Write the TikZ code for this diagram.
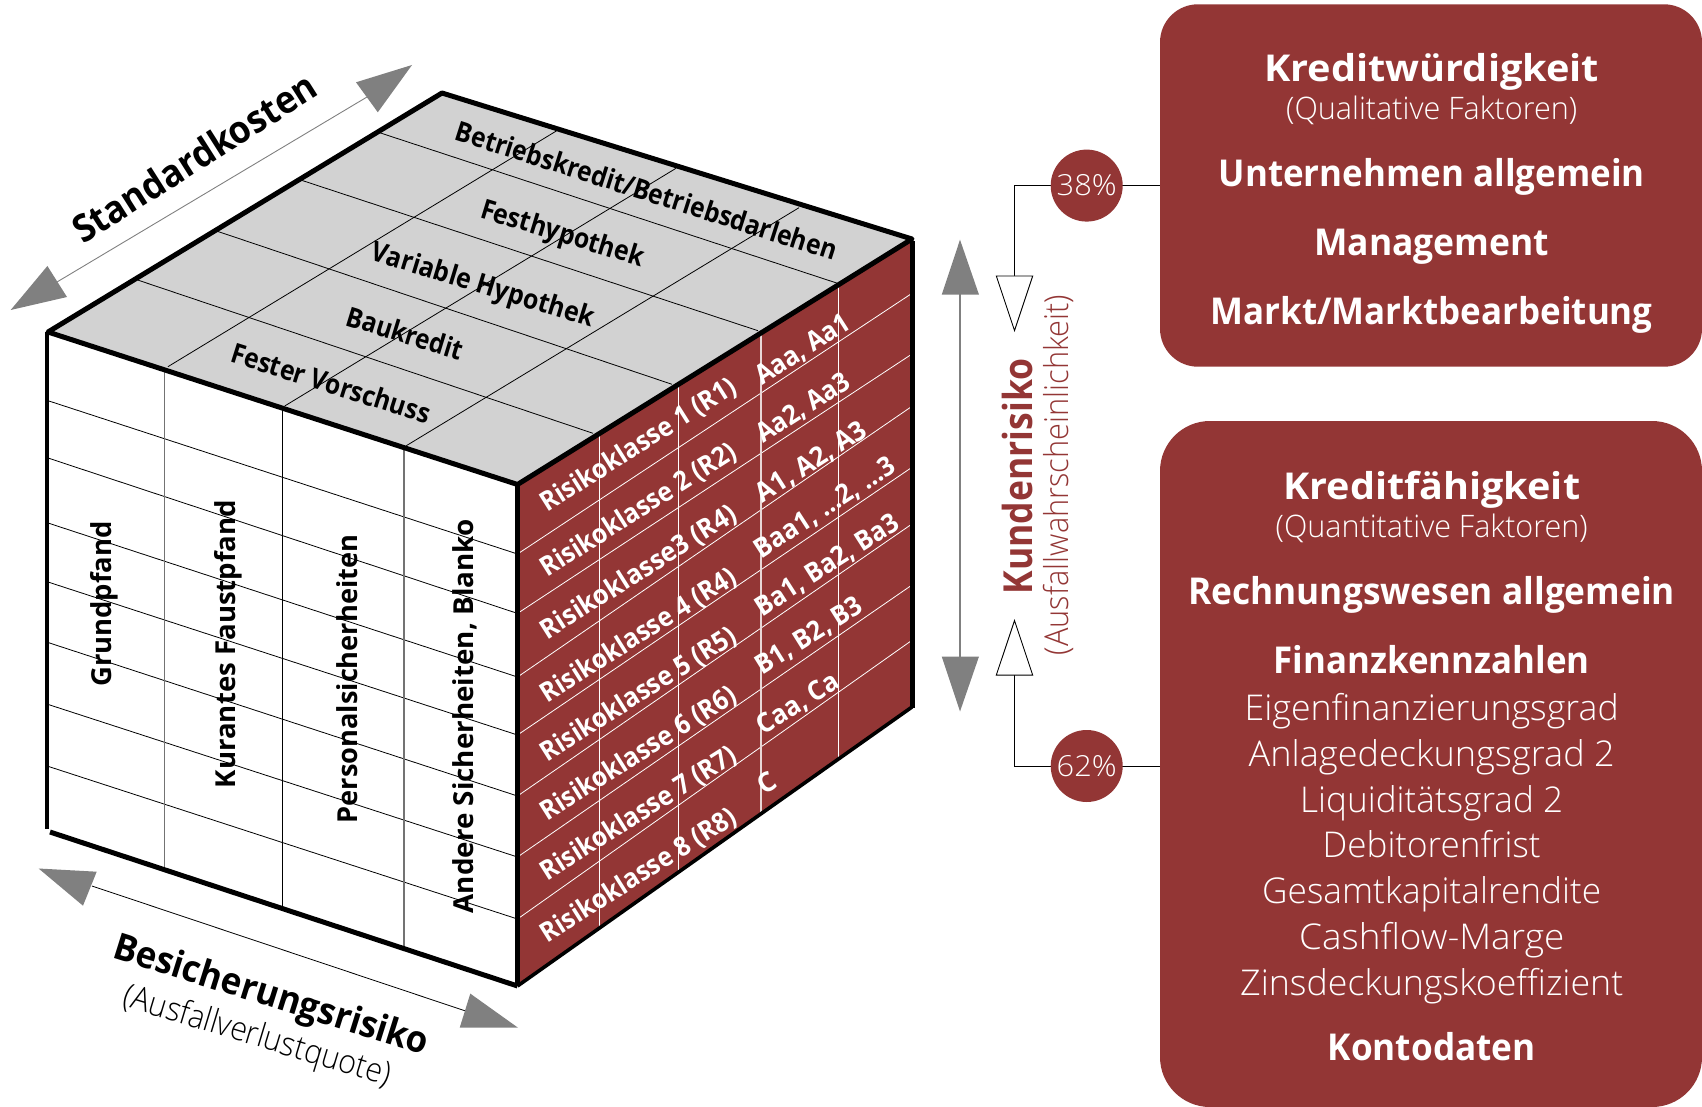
\documentclass[tikz,border=0pt]{standalone}
\usepackage{graphicx}
\usepackage{fontspec}
\setmainfont{Open Sans}
\newfontfamily\lightf{Open Sans}[UprightFont=* Light]
\definecolor{wine}{HTML}{933635}
\definecolor{arrowgray}{HTML}{808080}
\definecolor{topgray}{HTML}{D2D2D2}
\newsavebox\fitbox
\newcommand\fitw[3]{\sbox\fitbox{#2 #3}\pgfmathsetmacro\fitr{#1/\wd\fitbox}\scalebox{\fitr}[1]{\usebox\fitbox}}
\newcommand\fs[1]{\fontsize{#1}{#1}\selectfont}
\tikzset{
 x=1pt,y=-1pt,
 lbl/.style={inner sep=0pt,outer sep=0pt,anchor=base},
 edge/.style={draw=black,line width=5pt,line cap=butt,line join=miter},
 gridb/.style={draw=black,line width=0.8pt},
 gridg/.style={draw=black!55,line width=1.1pt},
 gridw/.style={draw=white,line width=0.8pt},
 gridv/.style={draw=white!80!wine,line width=1.2pt},
 grayhead/.style={fill=arrowgray,draw=none},
 openhead/.style={fill=white,draw=black,line width=0.9pt,line join=miter},
 link/.style={draw=black,line width=0.9pt},
 panel/.style={fill=wine,draw=none,inner sep=0pt,rectangle},
 pct/.style={circle,fill=wine,draw=none,minimum size=72pt,inner sep=0pt,text=white},
}
\begin{document}
\begin{tikzpicture}
\useasboundingbox (0,0) rectangle (1702,1107);
% corners of the cube
\coordinate (B) at (442,93);
\coordinate (R) at (912,239);
\coordinate (L) at (48,332);
\coordinate (F) at (517.5,484.5);
\coordinate (LB) at (48,831);
\coordinate (FB) at (517.5,986);
\coordinate (RB) at (912,707);
% faces
\fill[topgray] (B)--(R)--(F)--(L)--cycle;
\fill[white] (L)--(F)--(FB)--(LB)--cycle;
\fill[wine] (F)--(R)--(RB)--(FB)--cycle;
% top grid
\foreach \a/\b/\c/\d in {379.6/132.7/837.5/283.3,300.7/180/758/330.7,216.5/231/672/384.3,137.6/280/593/433.3,
  556.3/131/167.9/366.7,676/168.3/284.7/406,799/207.7/406.3/445.7}
  \draw[gridb] (\a,\b)--(\c,\d);
% left grid
\foreach \a/\b in {400.7/554,458/613.4,523/677,582/735,642.5/796,704.4/857,766.3/919}
  \draw[gridb] (48,\a)--(517.5,\b);
\draw[gridg] (164.3,371.7)--(164.3,867.8);
\draw[gridb] (282.3,410)--(282.3,906.5);
\draw[gridg] (404,448)--(404,947);
% right grid
\foreach \a/\b in {554/294.3,613.4/355,677/407.3,735/468.3,796/525,857/586,919/641.3}
  \draw[gridw] (517.5,\a)--(910.5,\b);
\draw[gridw,line width=1pt] (599,433)--(599,928);
\draw[gridw,line width=1pt] (678,384)--(678,872);
\draw[gridv] (761,332)--(761,813);
\draw[gridw,line width=1pt] (838,284)--(838,758);
% cube outline
\draw[edge,line join=round] (B)--(R)--(F)--(L)--cycle;
\draw[edge,line width=4.4pt] (46.8,332)--(46.8,829);
\draw[edge] (50,832)--(FB);
\draw[edge,line width=4.4pt] (F)--(FB);
\draw[edge] (912.5,241)--(912.5,708);
\draw[edge,line width=3.6pt] (RB)--(FB);
% top labels
\newcommand\topf{\bfseries\fs{27.5}}
\node[lbl,rotate=-17.7] (t1) at (640.5,199.3) {\fitw{405}{\topf}{Betriebskredit/Betriebsdarlehen}};
\node[lbl,rotate=-17] (t2) at (557,241) {\fitw{176}{\topf}{Festhypothek}};
\node[lbl,rotate=-17] (t3) at (477.5,292.7) {\fitw{238}{\topf}{Variable Hypothek}};
\node[lbl,rotate=-17] (t4) at (399,341.8) {\fitw{127}{\topf}{Baukredit}};
\node[lbl,rotate=-17.5] (t5) at (325,392) {\fitw{213.5}{\topf}{Fester Vorschuss}};
% left labels
\newcommand\leftf{\bfseries\fs{27.5}}
\node[lbl,rotate=90] (l1) at (111.5,607.6) {\fitw{172.5}{\leftf}{Grundpfand}};
\node[lbl,rotate=90] (l2) at (235.5,647.5) {\fitw{295.5}{\leftf}{Kurantes Faustpfand}};
\node[lbl,rotate=90] (l3) at (357.6,682.5) {\fitw{295.5}{\leftf}{Personalsicherheiten}};
\node[lbl,rotate=90] (l4) at (473.3,720) {\fitw{401}{\leftf}{Andere Sicherheiten, Blanko}};
% right labels
\newcommand\rightf{\bfseries\fs{27}\color{white}}
\foreach \n/\y/\t in {1/512.5/Risikoklasse 1 (R1),2/577.5/Risikoklasse 2 (R2),3/640/Risikoklasse3 (R4),4/703/Risikoklasse 4 (R4),5/762/Risikoklasse 5 (R5),6/821.4/Risikoklasse 6 (R6),7/881.4/Risikoklasse 7 (R7),8/943/Risikoklasse 8 (R8)}
  \node[lbl,rotate=32.3,anchor=base west] (r\n) at (547.5,\y) {\fitw{226.5}{\rightf}{\t}};
\node[lbl,rotate=32.6,anchor=base west] (c1) at (762,385.5) {\fitw{107.5}{\rightf}{Aaa, Aa1}};
\node[lbl,rotate=32.6,anchor=base west] (c2) at (763,443.8) {\fitw{106}{\rightf}{Aa2, Aa3}};
\node[lbl,rotate=32.6,anchor=base west] (c3) at (762.5,503.5) {\fitw{127}{\rightf}{A1, A2, A3}};
\node[lbl,rotate=33,anchor=base west] (c4) at (761.5,559) {\fitw{162}{\rightf}{Baa1, ...2, ...3}};
\node[lbl,rotate=32.6,anchor=base west] (c5) at (762,617) {\fitw{165}{\rightf}{Ba1, Ba2, Ba3}};
\node[lbl,rotate=32,anchor=base west] (c6) at (762.5,675) {\fitw{121}{\rightf}{B1, B2, B3}};
\node[lbl,rotate=32,anchor=base west] (c7) at (763.5,735.5) {\fitw{92}{\rightf}{Caa, Ca}};
\node[lbl,rotate=32,anchor=base west] (c8) at (764,795) {\rightf C};
% gray double arrows
\coordinate (sa) at (367,97); \coordinate (sb) at (57,282);
\draw[arrowgray,line width=0.9pt] (sa)--(sb);
\fill[grayhead] (412,65)--(356,82.3)--(377.8,112.3)--cycle;
\fill[grayhead] (10.7,310)--(47.4,266)--(67,297)--cycle;
\coordinate (ba) at (92,886); \coordinate (bb) at (465.6,1011);
\draw[black,line width=0.8pt] (ba)--(bb);
\fill[grayhead] (38.6,868.5)--(96.7,871.7)--(83,905.7)--cycle;
\fill[grayhead] (518,1027.7)--(470.3,993.6)--(459.7,1027.7)--cycle;
\coordinate (ka) at (960,290); \coordinate (kb) at (960,660);
\draw[arrowgray,line width=1.8pt] (ka)--(kb);
\fill[grayhead] (960,239.7)--(941.7,294.7)--(979,294.7)--cycle;
\fill[grayhead] (960,711.5)--(941.7,656.5)--(979,656.5)--cycle;
% axis labels
\node[lbl,rotate=32.4] (ax1) at (198,172) {\fitw{290}{\bfseries\fs{38}}{Standardkosten}};
\node[lbl,rotate=-17.4] (ax2) at (263.5,1005) {\fitw{337}{\bfseries\fs{37}}{Besicherungsrisiko}};
\node[lbl,rotate=-16.8] (ax3) at (250.5,1044.5) {\fitw{285}{\lightf\fs{33}}{(Ausfallverlustquote)}};
\node[lbl,rotate=90,text=wine] (ax4) at (1032,481) {\fitw{245}{\bfseries\fs{40}}{Kundenrisiko}};
\node[lbl,rotate=90,text=wine] (ax5) at (1068.3,479) {\fitw{368}{\lightf\fs{33}}{(Ausfallwahrscheinlichkeit)}};
% panels
\node[panel,rounded corners=38pt,minimum width=542pt,minimum height=362.4pt] (box1) at (1431,185.5) {};
\node[panel,rounded corners=50pt,minimum width=542pt,minimum height=686pt] (box2) at (1431,764) {};
\newcommand\hdf{\bfseries\fs{37}\color{white}}
\newcommand\subf{\lightf\fs{31}\color{white}}
\newcommand\plainf{\lightf\fs{35.5}\color{white}}
\newcommand\cx{1431.7}
\node[lbl] (a1) at (\cx,82) {\fitw{335}{\hdf}{Kreditwürdigkeit}};
\node[lbl] (a2) at (\cx,120) {\fitw{291}{\subf}{(Qualitative Faktoren)}};
\node[lbl] (a3) at (\cx,187) {\fitw{426}{\hdf}{Unternehmen allgemein}};
\node[lbl] (a4) at (\cx,256) {\fitw{235}{\hdf}{Management}};
\node[lbl] (a5) at (\cx,324.5) {\fitw{442}{\hdf}{Markt/Marktbearbeitung}};
\node[lbl] (b1) at (\cx,499.5) {\fitw{297}{\hdf}{Kreditfähigkeit}};
\node[lbl] (b2) at (\cx,537.5) {\fitw{312}{\subf}{(Quantitative Faktoren)}};
\node[lbl] (b3) at (\cx,604.5) {\fitw{487}{\hdf}{Rechnungswesen allgemein}};
\node[lbl] (b4) at (\cx,673.5) {\fitw{316}{\hdf}{Finanzkennzahlen}};
\node[lbl] (b5) at (\cx,720) {\fitw{374}{\plainf}{Eigenfinanzierungsgrad}};
\node[lbl] (b6) at (\cx,766) {\fitw{366}{\plainf}{Anlagedeckungsgrad 2}};
\node[lbl] (b7) at (\cx,812) {\fitw{263}{\plainf}{Liquiditätsgrad 2}};
\node[lbl] (b8) at (\cx,857) {\fitw{218}{\plainf}{Debitorenfrist}};
\node[lbl] (b9) at (\cx,903) {\fitw{339}{\plainf}{Gesamtkapitalrendite}};
\node[lbl] (b10) at (\cx,949) {\fitw{265}{\plainf}{Cashflow-Marge}};
\node[lbl] (b11) at (\cx,995) {\fitw{383}{\plainf}{Zinsdeckungskoeffizient}};
\node[lbl] (b12) at (\cx,1060) {\fitw{208}{\hdf}{Kontodaten}};
% connectors and percent circles
\coordinate (c38) at (1086.7,185.6);
\coordinate (c62) at (1086.7,766);
\coordinate (u1) at (996.3,276); \coordinate (u2) at (1032.7,276); \coordinate (ut) at (1014.5,330.6);
\coordinate (d1) at (996.3,675.1); \coordinate (d2) at (1032.7,675.1); \coordinate (dt) at (1014.5,620.6);
\coordinate (um) at (1014.5,276); \coordinate (dm) at (1014.5,675.1);
\draw[link] (box1.west|-c38) -- (c38);
\draw[link] (box2.west|-c62) -- (c62);
\draw[link] (c38) -| (um);
\draw[link] (c62) -| (dm);
\node[pct] (p38) at (c38) {\fitw{60}{\lightf\fs{29}\color{white}}{38\%}};
\node[pct] (p62) at (c62) {\fitw{60}{\lightf\fs{29}\color{white}}{62\%}};
\draw[openhead] (u1)--(u2)--(ut)--cycle;
\draw[openhead] (d1)--(d2)--(dt)--cycle;
\end{tikzpicture}
\end{document}
